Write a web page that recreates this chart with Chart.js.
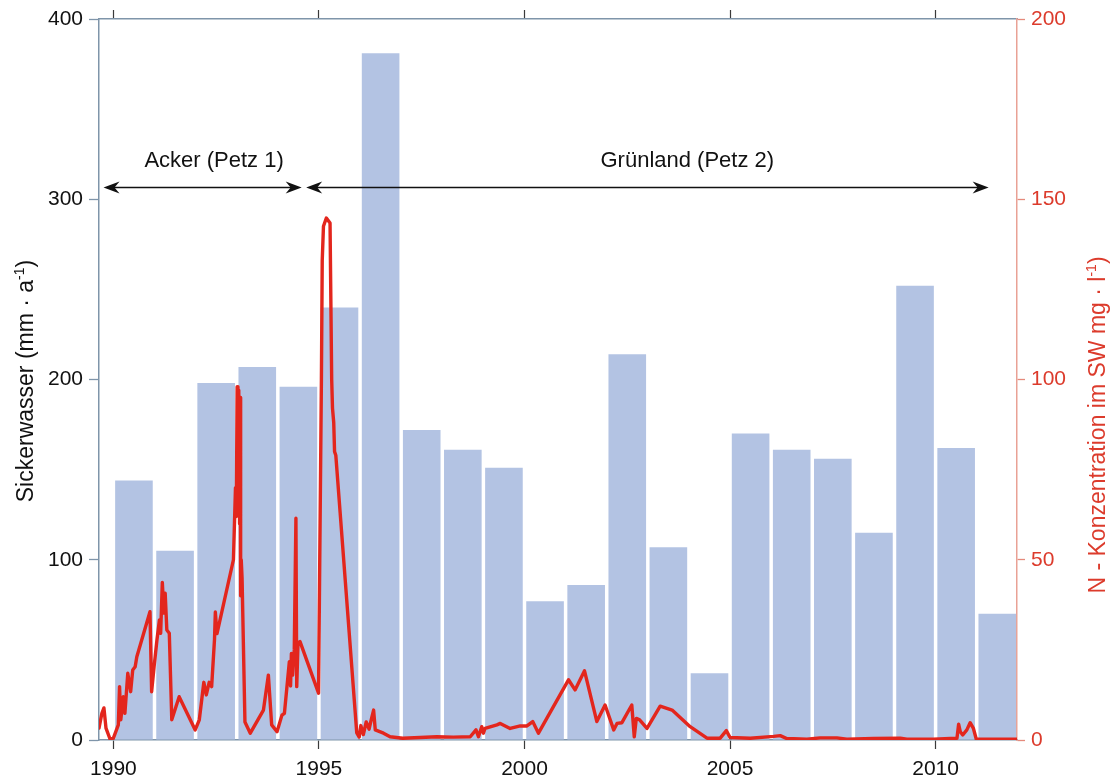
<!DOCTYPE html>
<html>
<head>
<meta charset="utf-8">
<script src="https://cdn.jsdelivr.net/npm/chart.js@4/dist/chart.umd.min.js"></script>
<style>
  html, body { margin: 0; padding: 0; background: #fff; }
  #wrap { width: 1114px; height: 781px; }
</style>
</head>
<body>
<div id="wrap"><canvas id="c" width="1114" height="781"></canvas></div>
<script>
// Sickerwasser per year (mm/a)
const years = [1990, 1991, 1992, 1993, 1994, 1995, 1996, 1997, 1998, 1999, 2000,
               2001, 2002, 2003, 2004, 2005, 2006, 2007, 2008, 2009, 2010, 2011];
const sickerwasser = [144, 105, 198, 207, 196, 240, 381, 172, 161, 151, 77,
                      86, 214, 107, 37, 170, 161, 156, 115, 252, 162, 70];

// N concentration in seepage water (mg/l), sampling dates as decimal years
const nTime = [
  1989.65, 1989.72, 1989.77, 1989.82, 1989.92, 1990.00, 1990.12, 1990.15, 1990.18, 1990.24,
  1990.28, 1990.35, 1990.42, 1990.47, 1990.53, 1990.57, 1990.89, 1990.93, 1990.99, 1991.06,
  1991.12, 1991.15, 1991.19, 1991.23, 1991.26, 1991.30, 1991.36, 1991.42, 1991.60, 1991.99,
  1992.09, 1992.20, 1992.26, 1992.33, 1992.39, 1992.46, 1992.48, 1992.52, 1992.92, 1992.97,
  1992.99, 1993.01, 1993.03, 1993.05, 1993.07, 1993.08, 1993.09, 1993.10, 1993.11, 1993.13,
  1993.20, 1993.33, 1993.65, 1993.77, 1993.85, 1993.98, 1994.10, 1994.16, 1994.28, 1994.31,
  1994.33, 1994.36, 1994.40, 1994.44, 1994.46, 1994.49, 1994.54, 1994.99, 1995.06, 1995.08,
  1995.11, 1995.18, 1995.27, 1995.31, 1995.33, 1995.36, 1995.38, 1995.41, 1995.92, 1995.98,
  1996.02, 1996.08, 1996.15, 1996.22, 1996.28, 1996.33, 1996.37, 1996.57, 1996.73, 1997.04,
  1997.46, 1997.87, 1998.27, 1998.68, 1998.82, 1998.88, 1998.96, 1999.00, 1999.04, 1999.33,
  1999.41, 1999.65, 1999.90, 2000.06, 2000.20, 2000.34, 2001.07, 2001.23, 2001.46, 2001.76,
  2001.96, 2002.17, 2002.25, 2002.37, 2002.61, 2002.67, 2002.72, 2002.80, 2002.98, 2003.30,
  2003.59, 2004.03, 2004.44, 2004.76, 2004.91, 2005.00, 2005.49, 2006.06, 2006.22, 2006.38,
  2006.87, 2007.19, 2007.60, 2007.84, 2008.49, 2009.14, 2009.30, 2009.95, 2010.36, 2010.52,
  2010.56, 2010.60, 2010.66, 2010.76, 2010.84, 2010.92, 2010.99, 2011.33, 2011.98
];
const nKonz = [
  3.3, 7.4, 8.9, 3.3, 0.2, 0.5, 4.2, 14.8, 5.6, 12.0,
  7.4, 18.5, 13.4, 19.4, 20.3, 23.1, 35.6, 13.4, 20.3, 27.8,
  33.3, 29.6, 43.7, 35.2, 40.7, 30.5, 29.6, 5.6, 12.0, 2.8,
  5.6, 16.0, 12.5, 16.0, 14.8, 28.0, 35.5, 29.5, 50.0, 70.0,
  62.0, 98.0, 75.0, 97.0, 60.0, 95.0, 50.0, 40.0, 50.0, 45.0,
  5.0, 1.9, 8.3, 18.0, 4.2, 2.3, 6.9, 7.4, 21.7, 15.0,
  24.0, 18.0, 25.0, 61.5, 14.8, 26.8, 27.3, 13.0, 100.0, 133.0,
  142.5, 144.8, 143.4, 100.0, 92.0, 88.0, 80.0, 79.0, 2.0, 0.8,
  4.0, 1.5, 5.0, 3.0, 6.0, 8.3, 2.8, 1.9, 0.9, 0.5,
  0.7, 0.9, 0.8, 0.9, 2.8, 0.9, 3.7, 1.9, 3.2, 4.2,
  4.6, 3.2, 3.9, 3.9, 5.1, 1.9, 16.7, 13.9, 19.2, 5.1,
  9.7, 2.8, 4.6, 4.8, 9.7, 0.9, 6.0, 5.6, 3.2, 9.4,
  8.3, 3.7, 0.5, 0.5, 2.6, 0.7, 0.5, 1.0, 1.2, 0.4,
  0.2, 0.6, 0.6, 0.2, 0.4, 0.5, 0.2, 0.2, 0.4, 0.5,
  4.4, 2.3, 1.4, 2.8, 4.8, 3.2, 0.2, 0.2, 0.2
];

// Axis ticks
const xTicks = [1990, 1995, 2000, 2005, 2010];
const leftTicks = [0, 100, 200, 300, 400];
const rightTicks = [0, 50, 100, 150, 200];

// Land-use periods shown as arrows above the bars
const periodLabels = ['Acker (Petz 1)', 'Grünland (Petz 2)'];
const periodStart = [1989.76, 1994.69];
const periodEnd = [1994.58, 2011.29];
const periodLabelCenter = [1992.45, 2003.96];

const FONT = '"Liberation Sans", Arial, Helvetica, sans-serif';
const RED = '#e3261d';
const RED_TXT = '#dc3b2c';
const AXIS_GREY = '#7f95aa';

function setTicks(list) {
  return function (scale) { scale.ticks = list.map(v => ({ value: v })); };
}

function arrowHead(ctx, x, y, dir) {
  // dir = +1 points left, -1 points right
  const L = 16, h = 6, n = 5;
  ctx.beginPath();
  ctx.moveTo(x, y);
  ctx.lineTo(x + dir * L, y - h);
  ctx.lineTo(x + dir * (L - n), y);
  ctx.lineTo(x + dir * L, y + h);
  ctx.closePath();
  ctx.fill();
}

function rotatedRich(ctx, parts, cx, cy, size, color) {
  const supSize = Math.round(size * 0.62);
  ctx.save();
  ctx.translate(cx, cy);
  ctx.rotate(-Math.PI / 2);
  ctx.fillStyle = color;
  ctx.textBaseline = 'alphabetic';
  ctx.textAlign = 'left';
  let total = 0;
  parts.forEach(p => {
    ctx.font = (p.sup ? supSize : size) + 'px ' + FONT;
    p.w = ctx.measureText(p.t).width;
    total += p.w;
  });
  let xPos = -total / 2;
  const base = size * 0.36;
  parts.forEach(p => {
    ctx.font = (p.sup ? supSize : size) + 'px ' + FONT;
    ctx.fillText(p.t, xPos, p.sup ? base - size * 0.42 : base);
    xPos += p.w;
  });
  ctx.restore();
}

const decorations = {
  id: 'decorations',
  afterDatasetsDraw(chart) {
    const { ctx, scales } = chart;
    const x = scales.x, y = scales.y;
    ctx.save();
    const ay = y.getPixelForValue(306.5);
    const ty = y.getPixelForValue(318);
    ctx.strokeStyle = '#111';
    ctx.fillStyle = '#111';
    ctx.lineWidth = 1.6;
    periodLabels.forEach((lab, i) => {
      const x0 = x.getPixelForValue(periodStart[i]);
      const x1 = x.getPixelForValue(periodEnd[i]);
      ctx.beginPath();
      ctx.moveTo(x0 + 8, ay);
      ctx.lineTo(x1 - 8, ay);
      ctx.stroke();
      arrowHead(ctx, x0, ay, 1);
      arrowHead(ctx, x1, ay, -1);
      ctx.font = '22px ' + FONT;
      ctx.textAlign = 'center';
      ctx.textBaseline = 'alphabetic';
      ctx.fillText(lab, x.getPixelForValue(periodLabelCenter[i]), ty);
    });
    ctx.restore();
  },
  afterDraw(chart) {
    const { ctx } = chart;
    rotatedRich(ctx, [{ t: 'Sickerwasser (mm · a' }, { t: '-1', sup: true }, { t: ')' }],
      25, 381, 23, '#111');
    rotatedRich(ctx, [{ t: 'N - Konzentration im SW mg · l' }, { t: '-1', sup: true }, { t: ')' }],
      1097, 425, 23, RED_TXT);
  }
};

new Chart(document.getElementById('c'), {
  type: 'bar',
  data: {
    datasets: [
      {
        type: 'line',
        label: 'N-Konzentration',
        data: nTime.map((t, i) => ({ x: t, y: nKonz[i] })),
        xAxisID: 'x',
        yAxisID: 'y2',
        borderColor: RED,
        borderWidth: 3.4,
        borderJoinStyle: 'round',
        borderCapStyle: 'round',
        pointRadius: 0,
        tension: 0,
        fill: false,
        order: 0
      },
      {
        type: 'bar',
        label: 'Sickerwasser',
        data: years.map((yr, i) => ({ x: yr + 0.5, y: sickerwasser[i] })),
        xAxisID: 'x',
        yAxisID: 'y',
        backgroundColor: '#b3c3e3',
        borderWidth: 0,
        barPercentage: 0.915,
        categoryPercentage: 1.0,
        order: 1
      }
    ]
  },
  options: {
    responsive: false,
    animation: false,
    devicePixelRatio: 1,
    layout: { padding: 0 },
    plugins: { legend: { display: false }, tooltip: { enabled: false } },
    scales: {
      x: {
        type: 'linear', axis: 'x', position: 'bottom',
        min: 1989.65, max: 2011.98, offset: false,
        afterBuildTicks: setTicks(xTicks),
        afterFit: s => { s.height = 41; },
        ticks: {
          color: '#111', font: { size: 21, family: FONT }, padding: 8,
          maxRotation: 0, autoSkip: false, callback: v => String(v)
        },
        grid: { display: true, offset: false, drawOnChartArea: false, drawTicks: true, tickLength: 9, tickColor: '#3a3a3a', tickWidth: 1.2 },
        border: { display: true, color: AXIS_GREY, width: 1.5 }
      },
      xTop: {
        type: 'linear', axis: 'x', position: 'top',
        min: 1989.65, max: 2011.98, offset: false,
        afterBuildTicks: setTicks(xTicks),
        afterFit: s => { s.height = 19; },
        ticks: { display: false },
        grid: { display: true, offset: false, drawOnChartArea: false, drawTicks: true, tickLength: 9, tickColor: '#3a3a3a', tickWidth: 1.2 },
        border: { display: true, color: AXIS_GREY, width: 1.5 }
      },
      y: {
        type: 'linear', axis: 'y', position: 'left',
        min: 0, max: 400,
        afterBuildTicks: setTicks(leftTicks),
        afterFit: s => { s.width = 99; },
        ticks: { color: '#111', font: { size: 21, family: FONT }, padding: 6 },
        grid: { display: true, drawOnChartArea: false, drawTicks: true, tickLength: 10, tickColor: AXIS_GREY, tickWidth: 1.3 },
        border: { display: true, color: AXIS_GREY, width: 1.5 }
      },
      y2: {
        type: 'linear', axis: 'y', position: 'right',
        min: 0, max: 200,
        afterBuildTicks: setTicks(rightTicks),
        afterFit: s => { s.width = 97; },
        ticks: { color: RED_TXT, font: { size: 21, family: FONT }, padding: 6 },
        grid: { display: true, drawOnChartArea: false, drawTicks: true, tickLength: 8, tickColor: '#e58a7c', tickWidth: 1.3 },
        border: { display: true, color: '#e9a195', width: 1.5 }
      }
    }
  },
  plugins: [decorations]
});
</script>
</body>
</html>
